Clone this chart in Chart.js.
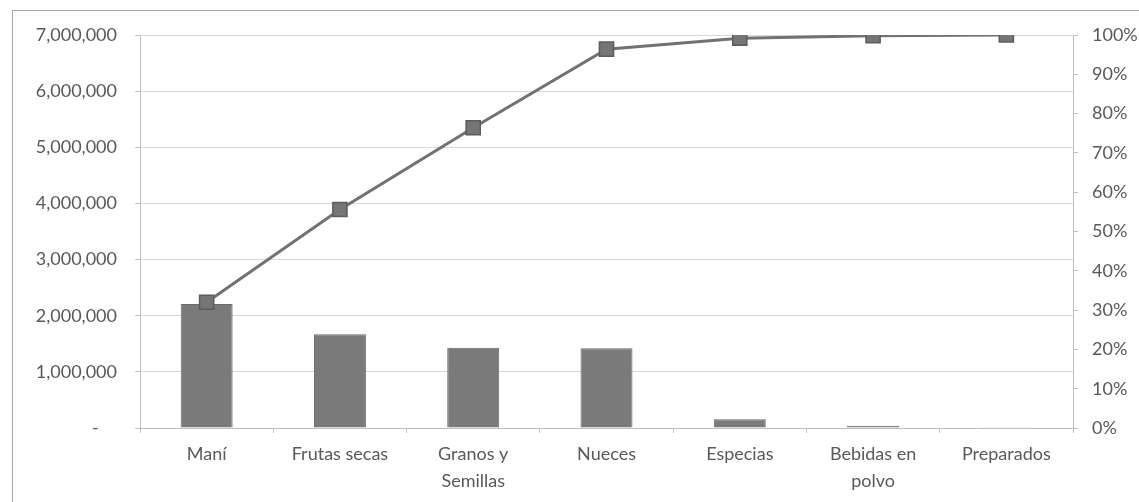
<!DOCTYPE html>
<html>
<head>
<meta charset="utf-8">
<script src="https://cdn.jsdelivr.net/npm/chart.js@4.4.1/dist/chart.umd.min.js"></script>
<style>
  html, body { margin: 0; padding: 0; background: #ffffff; overflow: hidden; }
  #wrap { position: relative; width: 1139px; height: 502px; }
  #frame { position: absolute; left: 12px; top: 10px; width: 1200px; height: 600px;
           border: 1px solid #a8a8a8; box-sizing: border-box; }
  canvas { position: absolute; left: 0; top: 0; }
</style>
</head>
<body>
<div id="wrap">
  <div id="frame"></div>
  <canvas id="chart" width="1139" height="502"></canvas>
</div>
<script>
// Product categories (multi-line ones split into lines)
const categories = [
  'Maní',
  'Frutas secas',
  ['Granos y', 'Semillas'],
  'Nueces',
  'Especias',
  ['Bebidas en', 'polvo'],
  'Preparados'
];

// Sales per category
const sales = [2210000, 1670000, 1430000, 1420000, 155000, 40000, 12000];

// Cumulative share (%)
const cumulativePct = [32.0, 55.6, 76.4, 96.4, 99.2, 99.8, 100];

// Axis ranges / steps
const salesMax = 7000000;
const salesStep = 1000000;
const pctMax = 100;
const pctStep = 10;

const textColor = '#595959';
const fontFamily = 'Lato, "Open Sans", sans-serif';

new Chart(document.getElementById('chart'), {
  data: {
    labels: categories,
    datasets: [
      {
        type: 'line',
        label: 'Acumulado',
        data: cumulativePct,
        yAxisID: 'yPct',
        order: 0,
        borderColor: '#727272',
        borderWidth: 3,
        pointStyle: 'rect',
        pointRadius: 10,
        pointHoverRadius: 10,
        pointBackgroundColor: '#757575',
        pointBorderColor: '#5c5c5c',
        pointBorderWidth: 1.5,
        tension: 0,
        fill: false
      },
      {
        type: 'bar',
        label: 'Ventas',
        data: sales,
        yAxisID: 'ySales',
        order: 1,
        backgroundColor: '#7a7a7a',
        borderColor: '#6a6a6a',
        borderWidth: 1,
        categoryPercentage: 1,
        barPercentage: 0.39
      }
    ]
  },
  options: {
    responsive: false,
    animation: false,
    events: [],
    layout: { padding: { top: 35, left: 0, right: 0, bottom: 0 } },
    plugins: {
      legend: { display: false },
      tooltip: { enabled: false }
    },
    scales: {
      x: {
        position: 'bottom',
        offset: true,
        afterFit: (s) => { s.height = 74; },
        grid: {
          offset: true,
          drawOnChartArea: false,
          drawTicks: true,
          tickLength: 5,
          color: '#bfbfbf'
        },
        border: { display: true, color: '#bfbfbf', width: 1 },
        ticks: {
          color: textColor,
          padding: 8,
          maxRotation: 0,
          autoSkip: false,
          font: { family: fontFamily, size: 18, lineHeight: 1.5 }
        }
      },
      ySales: {
        position: 'left',
        min: 0,
        max: salesMax,
        afterFit: (s) => { s.width = 140; },
        grid: {
          color: '#d9d9d9',
          lineWidth: 1,
          drawTicks: true,
          tickLength: 5,
          tickColor: '#bfbfbf'
        },
        border: { display: true, color: '#bfbfbf', width: 1 },
        ticks: {
          stepSize: salesStep,
          color: textColor,
          padding: 18,
          font: { family: fontFamily, size: 18 },
          callback: (v) => v === 0 ? '-    ' : v.toLocaleString('en-US')
        }
      },
      yPct: {
        position: 'right',
        min: 0,
        max: pctMax,
        afterFit: (s) => { s.width = 66; },
        grid: {
          drawOnChartArea: false,
          drawTicks: true,
          tickLength: 5,
          tickColor: '#bfbfbf'
        },
        border: { display: true, color: '#bfbfbf', width: 1 },
        ticks: {
          stepSize: pctStep,
          color: textColor,
          padding: 14,
          font: { family: fontFamily, size: 18 },
          callback: (v) => v + '%'
        }
      }
    }
  }
});
</script>
</body>
</html>
